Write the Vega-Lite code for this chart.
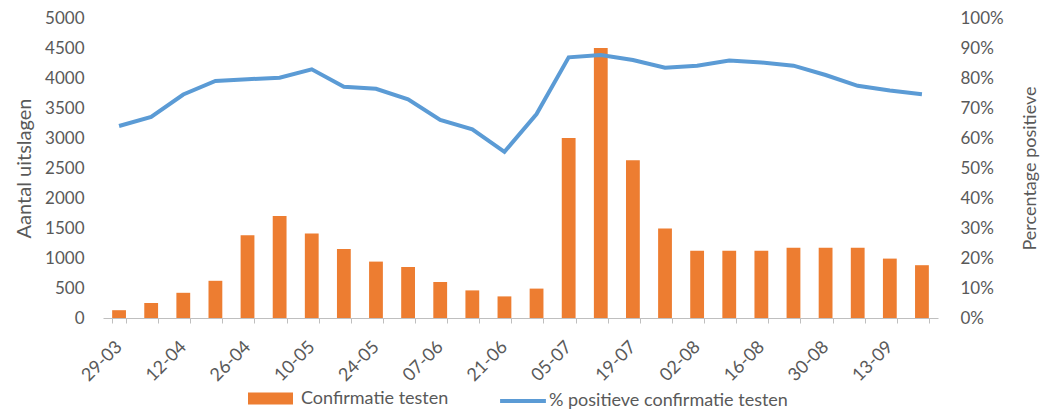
{
  "$schema": "https://vega.github.io/schema/vega-lite/v6.json",
  "width": 835,
  "height": 300,
  "autosize": {"type": "none"},
  "padding": {"left": 103, "top": 18, "right": 105, "bottom": 91},
  "background": "white",
  "config": {
    "view": {"stroke": null},
    "font": "Lato",
    "axis": {"grid": false, "labelColor": "#595959", "titleColor": "#595959", "labelFont": "Lato", "titleFont": "Lato", "labelFontSize": 17, "titleFontSize": 18, "titleFontWeight": "normal"},
    "legend": {"labelFont": "Lato", "labelFontSize": 18, "labelColor": "#595959", "padding": 0, "labelLimit": 400}
  },
  "data": {"values": [
    {"week": "29-03", "count": 130, "pct": 0.64},
    {"week": "05-04", "count": 250, "pct": 0.67},
    {"week": "12-04", "count": 420, "pct": 0.745},
    {"week": "19-04", "count": 620, "pct": 0.79},
    {"week": "26-04", "count": 1380, "pct": 0.796},
    {"week": "03-05", "count": 1700, "pct": 0.801},
    {"week": "10-05", "count": 1410, "pct": 0.829},
    {"week": "17-05", "count": 1150, "pct": 0.771},
    {"week": "24-05", "count": 940, "pct": 0.764},
    {"week": "31-05", "count": 850, "pct": 0.729},
    {"week": "07-06", "count": 600, "pct": 0.66},
    {"week": "14-06", "count": 460, "pct": 0.629},
    {"week": "21-06", "count": 360, "pct": 0.554},
    {"week": "28-06", "count": 490, "pct": 0.68},
    {"week": "05-07", "count": 3000, "pct": 0.869},
    {"week": "12-07", "count": 4500, "pct": 0.877},
    {"week": "19-07", "count": 2630, "pct": 0.86},
    {"week": "26-07", "count": 1490, "pct": 0.834},
    {"week": "02-08", "count": 1120, "pct": 0.841},
    {"week": "09-08", "count": 1120, "pct": 0.858},
    {"week": "16-08", "count": 1120, "pct": 0.852},
    {"week": "23-08", "count": 1170, "pct": 0.841},
    {"week": "30-08", "count": 1170, "pct": 0.81},
    {"week": "06-09", "count": 1170, "pct": 0.774},
    {"week": "13-09", "count": 990, "pct": 0.758},
    {"week": "20-09", "count": 880, "pct": 0.746}
  ]},
  "encoding": {
    "x": {
      "field": "week", "type": "ordinal", "sort": null,
      "scale": {"paddingInner": 0.57, "paddingOuter": 0.285},
      "axis": {
        "title": null, "labelAngle": -45, "labelAlign": "right", "labelBaseline": "middle", "labelFontSize": 18,
        "labelPadding": 21, "domainColor": "#BFBFBF", "tickColor": "#BFBFBF", "tickSize": 5, "tickBand": "extent",
        "labelExpr": "indexof(['29-03','12-04','26-04','10-05','24-05','07-06','21-06','05-07','19-07','02-08','16-08','30-08','13-09'], datum.value) >= 0 ? datum.value : ''"
      }
    }
  },
  "layer": [
    {
      "mark": {"type": "bar"},
      "encoding": {
        "y": {"field": "count", "type": "quantitative", "scale": {"domain": [0, 5000]},
          "axis": {"orient": "left", "title": "Aantal uitslagen", "titleFontSize": 20, "format": "d", "values": [0,500,1000,1500,2000,2500,3000,3500,4000,4500,5000], "domain": false, "ticks": false, "labelPadding": 19, "titlePadding": 10}},
        "color": {"datum": "Confirmatie testen", "scale": {"range": ["#ED7D31"]},
          "legend": {"title": null, "orient": "none", "legendX": 145, "legendY": 358, "symbolType": "M-1,-0.27H1V0.27H-1Z", "symbolSize": 2025, "symbolStrokeWidth": 0, "labelOffset": 8}}
      }
    },
    {
      "mark": {"type": "line", "strokeWidth": 4, "interpolate": "linear"},
      "encoding": {
        "y": {"field": "pct", "type": "quantitative", "scale": {"domain": [0, 1]},
          "axis": {"orient": "right", "title": "Percentage positieve", "titleAngle": -90, "format": ".0%", "values": [0,0.1,0.2,0.3,0.4,0.5,0.6,0.7,0.8,0.9,1], "domain": false, "ticks": false, "labelPadding": 22, "titlePadding": 36}},
        "stroke": {"datum": "% positieve confirmatie testen", "scale": {"range": ["#5B9BD5"]},
          "legend": {"title": null, "orient": "none", "legendX": 395, "legendY": 358, "symbolType": "stroke", "symbolSize": 2100, "symbolStrokeWidth": 4, "labelOffset": 1}}
      }
    }
  ],
  "resolve": {"scale": {"y": "independent"}}
}
